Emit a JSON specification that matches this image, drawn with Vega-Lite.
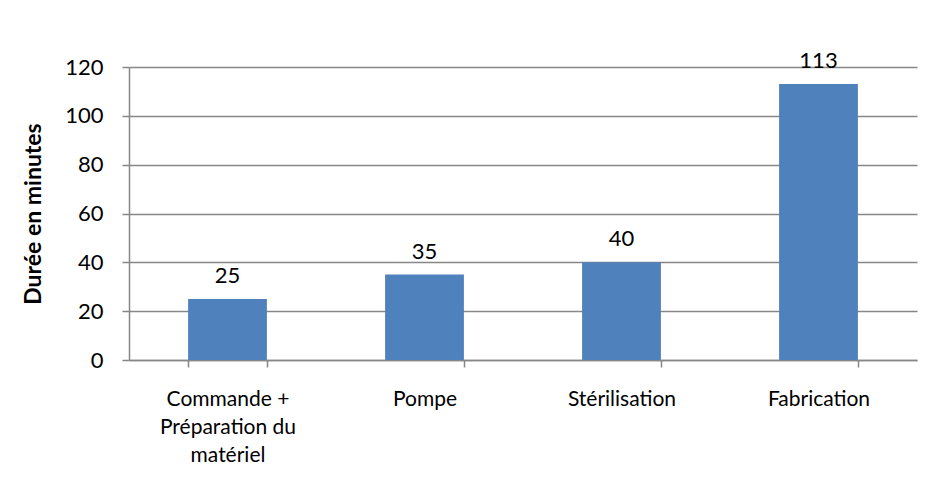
{
  "$schema": "https://vega.github.io/schema/vega-lite/v6.json",
  "autosize": {"type": "none"},
  "width": 788,
  "height": 293,
  "padding": {"left": 129, "top": 67, "right": 21, "bottom": 119},
  "background": "white",
  "config": {
    "view": {"stroke": null},
    "font": "Lato",
    "axis": {"labelFont": "Lato", "titleFont": "Lato", "labelColor": "#000000", "titleColor": "#000000"}
  },
  "data": {
    "values": [
      {"etape": "Commande + Préparation du matériel", "duree": 25},
      {"etape": "Pompe", "duree": 35},
      {"etape": "Stérilisation", "duree": 40},
      {"etape": "Fabrication", "duree": 113}
    ]
  },
  "encoding": {
    "x": {
      "field": "etape",
      "type": "nominal",
      "sort": null,
      "scale": {"paddingInner": 0.6, "paddingOuter": 0.3},
      "axis": {
        "title": null,
        "labelAngle": 0,
        "labelFontSize": 21,
        "labelPadding": 21,
        "labelLineHeight": 28,
        "labelExpr": "datum.label == 'Commande + Préparation du matériel' ? ['Commande +', 'Préparation du', 'matériel'] : datum.label",
        "tickBand": "extent",
        "tickSize": 7,
        "tickColor": "#878787",
        "tickWidth": 1.5,
        "domainColor": "#878787",
        "domainWidth": 1.5,
        "grid": false
      }
    },
    "y": {
      "field": "duree",
      "type": "quantitative",
      "scale": {"domain": [0, 120], "nice": false},
      "axis": {
        "title": "Durée en minutes",
        "titleFontSize": 23,
        "titleFontWeight": "bold",
        "titlePadding": 19,
        "values": [0, 20, 40, 60, 80, 100, 120],
        "labelFontSize": 22,
        "labelPadding": 19,
        "tickSize": 7,
        "tickColor": "#878787",
        "tickWidth": 1.5,
        "domainColor": "#878787",
        "domainWidth": 1.5,
        "grid": true,
        "gridColor": "#878787",
        "gridWidth": 1.5
      }
    }
  },
  "layer": [
    {"mark": {"type": "bar", "color": "#4F81BD"}},
    {
      "mark": {"type": "text", "baseline": "alphabetic", "dy": -16, "fontSize": 22, "color": "#000000", "font": "Lato"},
      "encoding": {"text": {"field": "duree", "type": "quantitative"}}
    }
  ]
}
